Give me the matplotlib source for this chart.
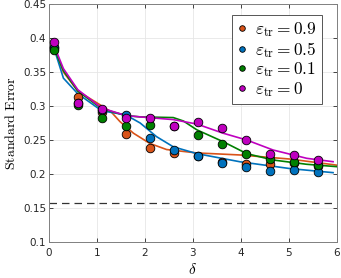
import numpy as np
import matplotlib
matplotlib.use("Agg")
import matplotlib.pyplot as plt

plt.rcParams["mathtext.fontset"] = "cm"

# ---- data ----
delta_pts = [0.1, 0.6, 1.1, 1.6, 2.1, 2.6, 3.1, 3.6, 4.1, 4.6, 5.1, 5.6]
se_09 = [0.387, 0.313, 0.291, 0.259, 0.238, 0.231, 0.226, 0.218, 0.215, 0.214, 0.216, 0.212]
se_05 = [0.386, 0.304, 0.294, 0.287, 0.253, 0.236, 0.226, 0.216, 0.210, 0.205, 0.206, 0.203]
se_01 = [0.382, 0.302, 0.282, 0.270, 0.272, 0.270, 0.258, 0.244, 0.229, 0.222, 0.217, 0.213]
se_00 = [0.394, 0.305, 0.296, 0.283, 0.282, 0.271, 0.277, 0.267, 0.250, 0.230, 0.228, 0.221]

# smoothed fit curves
fit_x_09 = [0.1, 0.3, 0.6, 1.06, 1.3, 1.48, 1.76, 2.1, 2.45, 3.08, 3.98, 5.02, 6.0]
fit_y_09 = [0.386, 0.350, 0.322, 0.302, 0.291, 0.277, 0.260, 0.245, 0.236, 0.231, 0.228, 0.222, 0.213]
fit_x_05 = [0.1, 0.3, 0.6, 1.1, 1.6, 1.9, 2.24, 2.59, 3.08, 3.98, 5.02, 5.92]
fit_y_05 = [0.386, 0.341, 0.318, 0.293, 0.287, 0.275, 0.255, 0.240, 0.230, 0.218, 0.208, 0.202]
fit_x_01 = [0.1, 0.3, 0.6, 1.1, 1.6, 1.9, 2.59, 2.8, 3.08, 3.63, 4.12, 4.67, 5.37, 6.0]
fit_y_01 = [0.386, 0.352, 0.322, 0.296, 0.286, 0.284, 0.283, 0.278, 0.265, 0.2475, 0.230, 0.2206, 0.2143, 0.2108]
fit_x_00 = [0.1, 0.3, 0.6, 1.1, 1.6, 1.9, 2.59, 3.08, 3.63, 4.12, 4.67, 5.37, 5.92]
fit_y_00 = [0.390, 0.355, 0.324, 0.297, 0.286, 0.284, 0.280, 0.2735, 0.260, 0.250, 0.2353, 0.2231, 0.2181]

baseline = 0.158

series = [
    ("0.9", "#D95319", se_09, fit_x_09, fit_y_09),
    ("0.5", "#0072BD", se_05, fit_x_05, fit_y_05),
    ("0.1", "#008000", se_01, fit_x_01, fit_y_01),
    ("0", "#BF00BF", se_00, fit_x_00, fit_y_00),
]

fig = plt.figure(figsize=(3.41, 2.78), dpi=100)
ax = fig.add_axes([0.1437, 0.1295, 0.8443, 0.856])

for lab, col, ys, fx, fy in series:
    ax.plot(fx, fy, color=col, lw=1.2, zorder=2)

ax.axhline(baseline, color="#333333", lw=0.9, ls=(0, (6, 4)), zorder=1)

handles = []
for lab, col, ys, fx, fy in series:
    h, = ax.plot(delta_pts, ys, "o", color=col, mec="black", mew=0.6,
                 ms=6.2, zorder=3,
                 label=r"$\varepsilon_{\rm tr} = " + lab + "$")
    handles.append(h)

ax.set_xlim(0, 6)
ax.set_ylim(0.1, 0.45)
ax.set_xticks(range(0, 7))
ax.set_yticks([0.1, 0.15, 0.2, 0.25, 0.3, 0.35, 0.4, 0.45])
ax.set_yticklabels(["0.1", "0.15", "0.2", "0.25", "0.3", "0.35", "0.4", "0.45"])
ax.grid(True, color="#e6e6e6", lw=0.6)
ax.set_axisbelow(True)
ax.tick_params(direction="in", length=3, width=0.6, labelsize=7.5,
               colors="#262626", top=True, right=True)
ax.tick_params(axis="x", pad=4)
ax.tick_params(axis="y", pad=2)
for s in ax.spines.values():
    s.set_color("#808080")
    s.set_linewidth(0.7)

ax.set_xlabel(r"$\delta$", fontsize=11, labelpad=3)
ax.set_ylabel(r"$\mathrm{Standard\ Error}$", fontsize=10, labelpad=4)

leg = ax.legend(handles=handles, loc="upper right", fontsize=12.5,
                markerscale=0.65, handlelength=0.6, handletextpad=0.45,
                borderpad=0.3, labelspacing=0.04, borderaxespad=0,
                fancybox=False, framealpha=1, edgecolor="#555555",
                bbox_to_anchor=(0.949, 0.954))
leg.get_frame().set_linewidth(0.7)

fig.savefig("out.png", dpi=100)
